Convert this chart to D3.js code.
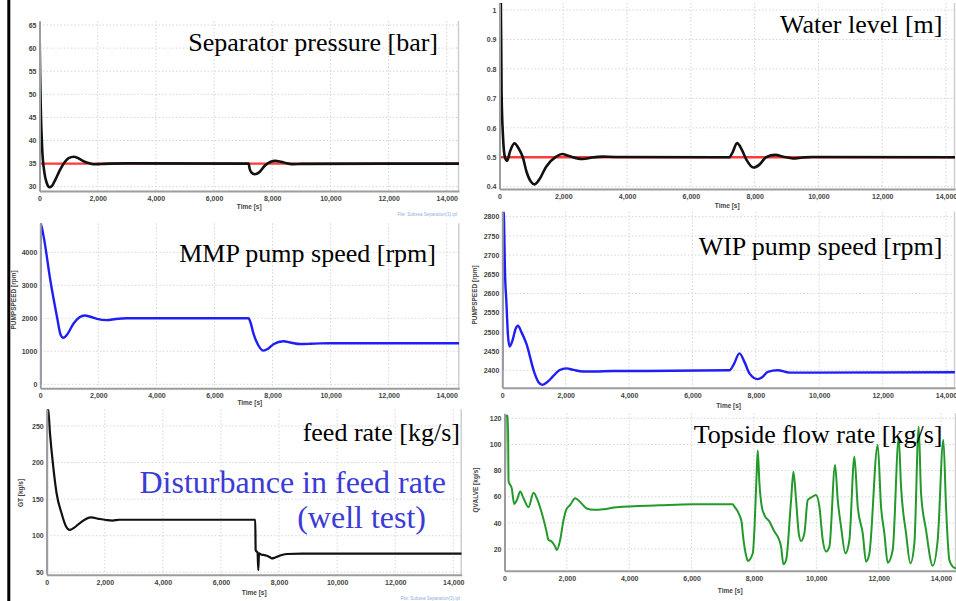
<!DOCTYPE html>
<html>
<head>
<meta charset="utf-8">
<script src="https://cdnjs.cloudflare.com/ajax/libs/d3/7.8.5/d3.min.js"></script>
<style>
    body { margin: 0; background: #ffffff; }
    .tick text { font-family: "Liberation Sans", Arial, sans-serif; font-size: 7px; font-weight: bold; fill: #444444; }
    .c_title { font-family: "Liberation Serif", "Times New Roman", serif; font-size: 26px; fill: #000000; }
    .c_note { font-family: "Liberation Serif", "Times New Roman", serif; font-size: 32px; fill: #3b3bd6; }
    .c_small { font-family: "Liberation Sans", Arial, sans-serif; font-size: 6.5px; font-weight: bold; fill: #444444; }
    .c_file { font-family: "Liberation Sans", Arial, sans-serif; font-size: 4.5px; fill: #8fb0dc; }
</style>
</head>
<body>
<div id="chart"></div>
<script>

const SVG_W = 956;
const SVG_H = 601;

// ---------------------------------------------------------------- data

const timeTicks = [0, 2000, 4000, 6000, 8000, 10000, 12000, 14000];

const pressureTicks = [30, 35, 40, 45, 50, 55, 60, 65];
const levelTicks = [0.4, 0.5, 0.6, 0.7, 0.8, 0.9, 1];
const mmpTicks = [0, 1000, 2000, 3000, 4000];
const wipTicks = [2400, 2450, 2500, 2550, 2600, 2650, 2700, 2750, 2800];
const feedTicks = [50, 100, 150, 200, 250];
const flowTicks = [20, 40, 60, 80, 100, 120];

const pressureSetpoint = 35;
const levelSetpoint = 0.5;

// separator pressure [bar]
const pressureTime  = [0, 20, 40, 90, 170, 250, 340, 420, 550, 700, 850, 1000, 1180, 1350, 1550, 1750, 1900, 2100, 2400, 3000,
                       7190, 7220, 7280, 7400, 7550, 7750, 7950, 8100, 8300, 8550, 8750, 9000, 14420];
const pressureValue = [65.7, 55, 48, 38.5, 33, 30.8, 29.9, 30.1, 31.6, 33.6, 35.2, 36.2, 36.5, 36.1, 35.4, 35.0, 34.85, 34.9, 35.0, 35.05,
                       35, 34.0, 33.1, 32.7, 33.1, 34.6, 35.4, 35.6, 35.4, 35.0, 34.88, 34.95, 35];

// water level [m]
const levelTime  = [0, 20, 40, 65, 110, 170, 240, 330, 470, 600, 731, 850, 1000, 1100, 1250, 1463, 1776, 1964, 2150, 2400, 2612, 2900, 3240, 3600,
                    7200, 7300, 7450, 7600, 7750, 7960, 8150, 8360, 8650, 8900, 9200, 9500, 9800, 14290];
const levelValue = [0.57, 1.05, 1.05, 0.72, 0.57, 0.5, 0.488, 0.52, 0.547, 0.53, 0.5, 0.45, 0.415, 0.408, 0.425, 0.468, 0.502, 0.511, 0.505, 0.497, 0.494, 0.499, 0.502, 0.501,
                    0.5, 0.515, 0.548, 0.525, 0.49, 0.465, 0.475, 0.5, 0.508, 0.502, 0.496, 0.499, 0.501, 0.5];

// MMP pump speed [rpm]
const mmpTime  = [0, 5, 115, 344, 574, 700, 790, 900, 1147, 1350, 1526, 1750, 1950, 2295, 2600, 2983,
                  7170, 7250, 7344, 7500, 7688, 7850, 8032, 8376, 8650, 8950, 9300, 9639, 10000, 14430];
const mmpValue = [0, 4880, 4475, 3160, 2050, 1500, 1410, 1480, 1840, 2030, 2085, 2040, 1985, 1945, 1980, 2000,
                  2000, 1850, 1534, 1200, 1020, 1080, 1213, 1303, 1260, 1220, 1228, 1240, 1245, 1245];

// WIP pump speed [rpm]
const wipTime  = [0, 8, 40, 90, 126, 180, 231, 330, 420, 494, 600, 757, 1019, 1150, 1261, 1400, 1597, 1800, 2018, 2250, 2543, 2900, 3500, 4500,
                  7168, 7300, 7483, 7650, 7798, 8061, 8200, 8376, 8692, 9060, 9500, 14280];
const wipValue = [2400, 2820, 2820, 2640, 2583, 2490, 2462, 2480, 2508, 2516, 2500, 2470, 2392, 2368, 2362, 2368, 2384, 2400, 2405, 2401, 2397, 2397, 2398, 2398,
                  2400, 2415, 2444, 2420, 2392, 2377, 2382, 2396, 2400, 2394, 2394, 2395];

// feed rate [kg/s]
const feedTime  = [0, 8, 45, 113, 226, 340, 509, 650, 792, 950, 1132, 1528, 1800, 2037, 2264, 2500,
                   7180, 7195, 7260, 7285, 7310, 7400, 7460, 7690, 7750, 7850, 8035, 8265, 8800, 14290];
const feedValue = [50, 275, 275, 240, 194, 158, 131, 114, 108, 111, 117, 125, 123, 121.5, 120.6, 121.8,
                   121.8, 80, 77, 53, 76, 74, 73.7, 70.5, 69, 69.8, 73, 75, 75.5, 75.5];

// topside flow rate [kg/s]
const flowTime  = [0, 25, 45, 110, 130, 236, 311, 397, 504, 610, 770, 930, 1058, 1198, 1337, 1411, 1519, 1625, 1679, 1786, 1892, 1978,
                   2107, 2267, 2427, 2641, 2854, 3174, 3600, 4970, 6038, 7321, 7374, 7534, 7609, 7641, 7695, 7770, 7802,
                   7962, 8020, 8095, 8122, 8176, 8251, 8336, 8496, 8657, 8763, 8870, 8945, 9031, 9191, 9266, 9351, 9437, 9511,
                   9618, 9725, 9832, 9992, 10099, 10206, 10313, 10420, 10602, 10687, 10794, 10933, 11061, 11221, 11328, 11489,
                   11596, 11703, 11969, 12076, 12183, 12290, 12450, 12643, 12718, 12878, 13017, 13145, 13284, 13359, 13519,
                   13733, 13893, 14075, 14160, 14267, 14374, 14481];
const flowValue = [20, 90, 122, 122, 72, 66, 54.4, 57.5, 63.9, 58.8, 52, 63, 57.5, 47.3, 34.5, 27, 25.6, 21.8, 19.2, 27, 42, 50,
                   53.7, 58.8, 56, 51, 50, 50.4, 52, 53.4, 54.2, 54.2, 52.4, 46, 40, 32, 21.8, 12.9, 10.8,
                   16.7, 37, 83, 95.3, 70, 52.4, 46, 41, 33.3, 29.4, 21.8, 8.3, 11.6, 57.5, 79, 57.5, 32, 26.1,
                   32, 57.5, 59.3, 61.3, 52.4, 26.9, 18, 21.8, 84.3, 57.5, 37, 16.7, 26.9, 90.7, 52.4, 32,
                   10.3, 16.7, 99.6, 52.4, 32, 9.5, 19.2, 104.7, 67.7, 32, 9, 24.3, 113.6, 62.6, 34.5,
                   7.2, 26.9, 103.4, 52.4, 11.6, 6.5, 5.2];

// ---------------------------------------------------------------- layout

const COLOR_BLACK = "#111111";
const COLOR_BLUE = "#1f1ff5";
const COLOR_GREEN = "#22992a";
const COLOR_RED = "#ff3a3a";
const COLOR_AXIS = "#9c9c9c";
const COLOR_GRID = "#d6d6d6";

const panels = [
    { left: 39.5, right: 459, top: 21, bottom: 191, xDomain: [0, 14420], yDomain: [29.07, 65.87],
      yTicks: pressureTicks, t: pressureTime, v: pressureValue, setpoint: pressureSetpoint,
      color: COLOR_BLACK, lineWidth: 2.6,
      title: "Separator pressure [bar]", titleX: 438, titleY: 50.5, timeDy: 18, yLabel: null },
    { left: 499.5, right: 955, top: 3, bottom: 189, xDomain: [0, 14282], yDomain: [0.3922, 1.0238],
      yTicks: levelTicks, t: levelTime, v: levelValue, setpoint: levelSetpoint,
      color: COLOR_BLACK, lineWidth: 2.6,
      title: "Water level [m]", titleX: 942.5, titleY: 32.5, timeDy: 19, yLabel: null },
    { left: 40.3, right: 459.3, top: 223.3, bottom: 388.3, xDomain: [0, 14434], yDomain: [-121, 4879],
      yTicks: mmpTicks, t: mmpTime, v: mmpValue, setpoint: null,
      color: COLOR_BLUE, lineWidth: 2.4,
      title: "MMP pump speed [rpm]", titleX: 436, titleY: 261.5, timeDy: 17,
      yLabel: "PUMPSPEED [rpm]", yLabelX: 13.5, yLabelY: 300 },
    { left: 502.3, right: 955, top: 211.7, bottom: 387.7, xDomain: [0, 14284], yDomain: [2354.7, 2813],
      yTicks: wipTicks, t: wipTime, v: wipValue, setpoint: null,
      color: COLOR_BLUE, lineWidth: 2.4,
      title: "WIP pump speed [rpm]", titleX: 942.5, titleY: 254.5, timeDy: 20,
      yLabel: "PUMPSPEED [rpm]", yLabelX: 474.5, yLabelY: 295 },
    { left: 46.7, right: 461.7, top: 409.3, bottom: 574.7, xDomain: [0, 14289], yDomain: [46.7, 272.8],
      yTicks: feedTicks, t: feedTime, v: feedValue, setpoint: null,
      color: COLOR_BLACK, lineWidth: 2.2,
      title: "feed rate [kg/s]", titleX: 460, titleY: 440.5, timeDy: 20,
      yLabel: "GT [kg/s]", yLabelX: 21, yLabelY: 493 },
    { left: 504.5, right: 956, top: 413.3, bottom: 570.7, xDomain: [0, 14480], yDomain: [3.4, 123.8],
      yTicks: flowTicks, t: flowTime, v: flowValue, setpoint: null,
      color: COLOR_GREEN, lineWidth: 2,
      title: "Topside flow rate [kg/s]", titleX: 942.5, titleY: 442.5, timeDy: 22,
      yLabel: "QVALVE [kg/s]", yLabelX: 475.5, yLabelY: 490 }
];

// ---------------------------------------------------------------- draw

let svg = d3.select("#chart")
            .append("svg")
                .attr("width", SVG_W)
                .attr("height", SVG_H);

svg.append("rect")
        .attr("width", SVG_W)
        .attr("height", SVG_H)
        .attr("fill", "#ffffff");

function draw_panel(p, i) {

    let x = d3.scaleLinear().domain(p.xDomain).range([p.left, p.right]);
    let y = d3.scaleLinear().domain(p.yDomain).range([p.bottom, p.top]);

    let g = svg.append("g");

    // grid
    g.append("g")
        .selectAll("line")
        .data(p.yTicks)
        .join("line")
            .attr("x1", p.left)
            .attr("x2", p.right)
            .attr("y1", d => y(d))
            .attr("y2", d => y(d))
            .attr("stroke", COLOR_GRID)
            .attr("stroke-width", 1)
            .attr("stroke-dasharray", "1.5,2");

    g.append("g")
        .selectAll("line")
        .data(timeTicks.slice(1))
        .join("line")
            .attr("x1", d => x(d))
            .attr("x2", d => x(d))
            .attr("y1", p.top)
            .attr("y2", p.bottom)
            .attr("stroke", COLOR_GRID)
            .attr("stroke-width", 1)
            .attr("stroke-dasharray", "1.5,2");

    // right border of plot area
    g.append("line")
        .attr("x1", p.right - 0.5)
        .attr("x2", p.right - 0.5)
        .attr("y1", p.top)
        .attr("y2", p.bottom)
        .attr("stroke", "#cfcfcf")
        .attr("stroke-width", 1.5);

    // clip
    let clipId = "clip" + i;
    svg.append("clipPath")
        .attr("id", clipId)
        .append("rect")
            .attr("x", p.left)
            .attr("y", p.top)
            .attr("width", p.right - p.left)
            .attr("height", p.bottom - p.top);

    let plot = g.append("g").attr("clip-path", "url(#" + clipId + ")");

    if (p.setpoint !== null) {
        plot.append("line")
            .attr("x1", x(p.xDomain[0]))
            .attr("x2", x(p.xDomain[1]))
            .attr("y1", y(p.setpoint))
            .attr("y2", y(p.setpoint))
            .attr("stroke", COLOR_RED)
            .attr("stroke-width", 2.4);
    }

    let line = d3.line()
                 .x(d => x(p.t[d]))
                 .y(d => y(p.v[d]))
                 .curve(d3.curveMonotoneX);

    plot.append("path")
        .attr("d", line(d3.range(p.t.length)))
        .attr("fill", "none")
        .attr("stroke", p.color)
        .attr("stroke-width", p.lineWidth)
        .attr("stroke-linejoin", "round");

    // axes
    let axisX = g.append("g")
        .attr("transform", "translate(0," + p.bottom + ")")
        .call(d3.axisBottom(x)
                .tickValues(timeTicks)
                .tickSize(0)
                .tickPadding(5)
                .tickFormat(d3.format(",")));

    let axisY = g.append("g")
        .attr("transform", "translate(" + p.left + ",0)")
        .call(d3.axisLeft(y)
                .tickValues(p.yTicks)
                .tickSize(0)
                .tickPadding(3)
                .tickFormat(d3.format("~g")));

    [axisX, axisY].forEach(a => {
        a.select(".domain")
            .attr("stroke", COLOR_AXIS)
            .attr("stroke-width", 2);
        a.selectAll("text").attr("font-family", null).attr("font-size", null).attr("fill", null);
    });

    g.append("text")
        .attr("class", "c_small")
        .attr("text-anchor", "middle")
        .attr("x", (p.left + p.right) / 2)
        .attr("y", p.bottom + p.timeDy)
        .text("Time [s]");

    if (p.yLabel) {
        g.append("text")
            .attr("class", "c_small")
            .attr("text-anchor", "middle")
            .attr("transform", "translate(" + p.yLabelX + "," + p.yLabelY + ") rotate(-90)")
            .attr("dy", "0.35em")
            .text(p.yLabel);
    }

    g.append("text")
        .attr("class", "c_title")
        .attr("text-anchor", "end")
        .attr("x", p.titleX)
        .attr("y", p.titleY)
        .text(p.title);
}

panels.forEach(draw_panel);

// annotation on the feed rate panel
svg.append("text")
        .attr("class", "c_note")
        .attr("text-anchor", "end")
        .attr("x", 446)
        .attr("y", 493)
        .text("Disturbance in feed rate");

svg.append("text")
        .attr("class", "c_note")
        .attr("text-anchor", "end")
        .attr("x", 426)
        .attr("y", 528)
        .text("(well test)");

// file stamps of the simulator screenshots
svg.append("text")
        .attr("class", "c_file")
        .attr("text-anchor", "end")
        .attr("x", 457)
        .attr("y", 216)
        .text("File: Subsea Separation(3).tpl");

svg.append("text")
        .attr("class", "c_file")
        .attr("text-anchor", "end")
        .attr("x", 460)
        .attr("y", 600)
        .text("File: Subsea Separation(3).tpl");

// black frame line on the left
svg.append("rect")
        .attr("x", 7.3)
        .attr("y", 0)
        .attr("width", 3)
        .attr("height", SVG_H)
        .attr("fill", "#000000");

</script>
</body>
</html>
